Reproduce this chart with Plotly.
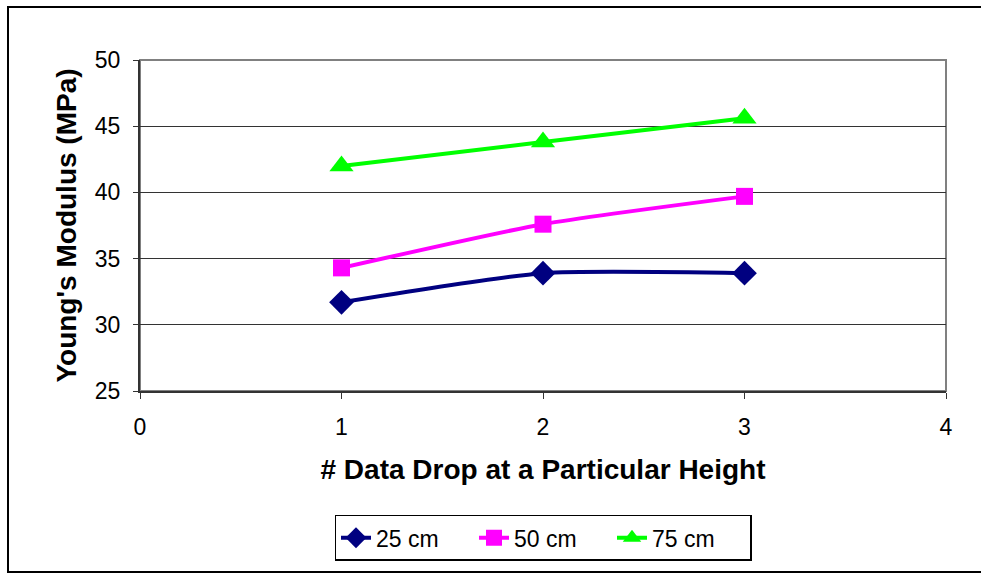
import plotly.graph_objects as go

# Drop number at each height
drops = [1, 2, 3]

# Young's modulus (MPa) per drop height
modulus_25cm = [31.7, 33.9, 33.9]
modulus_50cm = [34.3, 37.6, 39.7]
modulus_75cm = [42.0, 43.8, 45.6]

series = [
    ("25 cm", modulus_25cm, "#000080", "diamond", 19),
    ("50 cm", modulus_50cm, "#FF00FF", "square", 17),
    ("75 cm", modulus_75cm, "#00FF00", "triangle-up", 21),
]

FONT = "Arial, Liberation Sans, sans-serif"

fig = go.Figure()
for name, vals, color, symbol, size in series:
    fig.add_trace(go.Scatter(
        x=drops, y=vals, name=name, mode="lines+markers",
        line=dict(color=color, width=4, shape="spline", smoothing=0.6),
        marker=dict(symbol=symbol, size=size, color=color),
    ))

W, H = 981, 573
L, R, T, B = 140, 35, 60, 182
pw, ph = W - L - R, H - T - B

def px_to_paper(px, py):
    return (px - L) / pw, (H - B - py) / ph

# outer chart frame
x0, y0 = px_to_paper(8, 572)
x1, y1 = px_to_paper(1010, 7)
fig.add_shape(type="rect", xref="paper", yref="paper", x0=x0, y0=y0, x1=x1, y1=y1,
              line=dict(color="black", width=2), layer="below")
# plot area frame
fig.add_shape(type="rect", xref="paper", yref="paper", x0=0, y0=0, x1=1, y1=1,
              line=dict(color="#808080", width=2), layer="below")

fig.update_layout(
    width=W, height=H,
    margin=dict(l=L, r=R, t=T, b=B),
    paper_bgcolor="white", plot_bgcolor="white",
    font=dict(family=FONT, size=22, color="black"),
    showlegend=True,
    legend=dict(
        orientation="h", x=0.5, xanchor="center", y=-0.374, yanchor="top",
        bordercolor="black", borderwidth=1.5, font=dict(size=23),
        entrywidth=93, traceorder="normal",
    ),
    xaxis=dict(
        range=[0, 4], tickvals=[0, 1, 2, 3, 4], ticks="outside", ticklen=6,
        tickcolor="#333", showgrid=False, zeroline=False,
        showline=True, linecolor="#333", linewidth=2,
        ticklabelstandoff=8, tickfont=dict(size=23),
        title=dict(text="<b># Data Drop at a Particular Height</b>",
                   font=dict(size=28), standoff=21),
    ),
    yaxis=dict(
        range=[25, 50], tickvals=[25, 30, 35, 40, 45, 50], ticks="outside", ticklen=5,
        tickcolor="#333", showgrid=True, gridcolor="#333", gridwidth=1,
        zeroline=False, showline=True, linecolor="#333", linewidth=2,
        ticklabelstandoff=8, tickfont=dict(size=23),
        title=dict(text="<b>Young's Modulus (MPa)</b>",
                   font=dict(size=28), standoff=10),
    ),
)

fig.write_html("out.html")
